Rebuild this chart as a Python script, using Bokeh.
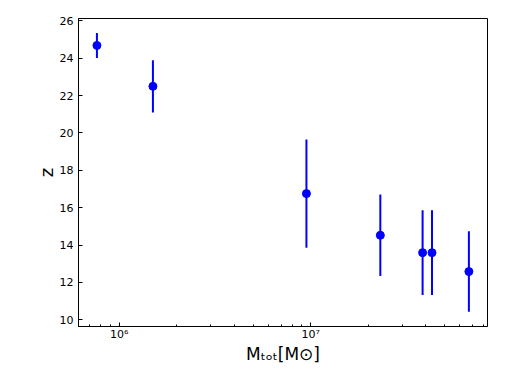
from bokeh.plotting import figure
from bokeh.models import Range1d, FixedTicker, SingleIntervalTicker, ColumnDataSource
from bokeh.embed import file_html
from bokeh.resources import INLINE

# data
mass = [7.65e5, 1.50e6, 9.5e6, 2.31e7, 3.84e7, 4.30e7, 6.70e7]
z = [24.68, 22.49, 16.75, 14.52, 13.59, 13.59, 12.58]
z_err = [0.67, 1.40, 2.90, 2.18, 2.27, 2.27, 2.15]

x_major = [1e6, 1e7]
x_major_labels = {1e6: "10⁶", 1e7: "10⁷"}
x_minor = [m * 10 ** e for e in (5, 6, 7) for m in range(2, 10)]

src = ColumnDataSource(dict(
    x=mass, z=z,
    lo=[a - b for a, b in zip(z, z_err)],
    hi=[a + b for a, b in zip(z, z_err)],
))

p = figure(
    output_backend="svg", toolbar_location=None,
    x_axis_type="log",
    x_range=Range1d(6.13e5, 8.38e7), y_range=Range1d(9.64, 26.12),
    frame_width=409, frame_height=308,
    min_border_left=78, min_border_right=10, min_border_top=18, min_border_bottom=45,
)
p.background_fill_color = "white"
p.border_fill_color = "white"
p.outline_line_color = "black"
p.outline_line_width = 1
p.xgrid.visible = False
p.ygrid.visible = False

p.segment(x0="x", y0="lo", x1="x", y1="hi", source=src, line_color="#0000ff", line_width=2)
p.scatter(x="x", y="z", source=src, size=8, fill_color="#0000ff", line_color="#0000ff")

xa = p.xaxis[0]
xa.ticker = FixedTicker(ticks=x_major, minor_ticks=x_minor)
xa.major_label_overrides = x_major_labels
xa.major_tick_in = 4
xa.major_tick_out = 0
xa.minor_tick_in = 2
xa.minor_tick_out = 0
xa.axis_line_color = "black"
xa.major_label_text_font = "DejaVu Sans"
xa.major_label_text_font_size = "11px"
xa.major_label_text_color = "black"
xa.major_label_standoff = 1
xa.axis_label = "Mₜₒₜ[M⊙]"
xa.axis_label_text_font = "DejaVu Sans"
xa.axis_label_text_font_style = "normal"
xa.axis_label_text_font_size = "17px"
xa.axis_label_text_color = "black"
xa.axis_label_standoff = 0

ya = p.yaxis[0]
ya.ticker = SingleIntervalTicker(interval=2, num_minor_ticks=0)
ya.major_tick_in = 4
ya.major_tick_out = 0
ya.minor_tick_in = 0
ya.minor_tick_out = 0
ya.axis_line_color = "black"
ya.major_label_text_font = "DejaVu Sans"
ya.major_label_text_font_size = "11px"
ya.major_label_text_color = "black"
ya.major_label_standoff = 5
ya.axis_label = "z"
ya.axis_label_text_font = "DejaVu Sans"
ya.axis_label_text_font_style = "normal"
ya.axis_label_text_font_size = "18px"
ya.axis_label_text_color = "black"
ya.axis_label_standoff = 0

open("out.html", "w").write(file_html(p, INLINE))
